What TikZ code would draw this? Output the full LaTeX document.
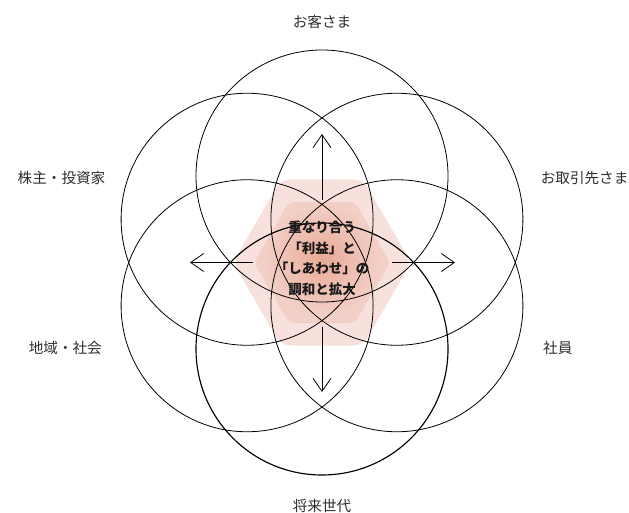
\documentclass[tikz,border=0pt]{standalone}
\usepackage{fontspec}
\newfontfamily\jp{Noto Sans CJK JP}
\usetikzlibrary{arrows.meta,fadings}
\definecolor{hexout}{RGB}{248,225,220}
\definecolor{hexin}{RGB}{243,208,199}
\definecolor{glowc}{RGB}{233,170,150}
\definecolor{lbl}{RGB}{45,45,45}
\tikzfading[name=glowfade, inner color=transparent!0, outer color=transparent!100]
\begin{document}
\begin{tikzpicture}[x=1pt,y=-1pt,
  ring/.style={draw=black, line width=0.8pt},
  ringbold/.style={draw=black, line width=1.15pt},
  flow/.style={draw=black, line width=0.8pt, -{Straight Barb[length=13pt,width=18pt,line width=0.8pt]}},
  stake/.style={font=\jp\fontsize{14.6pt}{18pt}\selectfont, text=lbl, inner sep=0pt},
  core/.style={font=\jp\bfseries\fontsize{13.5pt}{20.5pt}\selectfont, align=center, inner sep=0pt}
]
\useasboundingbox (0,0) rectangle (629,513);
% hexagons
\fill[hexout, rounded corners=9pt] (281,179.5) -- (363,179.5) -- (411,262.5) -- (363,345.5) -- (281,345.5) -- (233,262.5) -- cycle;
\fill[hexin, rounded corners=6pt] (289,202) -- (355,202) -- (390,262.5) -- (355,323) -- (289,323) -- (254,262.5) -- cycle;
\fill[glowc, path fading=glowfade] (322,259) ellipse [x radius=58pt, y radius=56pt];
% circle centres
\coordinate (ctop) at (322,176);
\coordinate (cur) at (396.9,219.25);
\coordinate (clr) at (396.9,305.75);
\coordinate (cbot) at (322,349);
\coordinate (cll) at (247.1,305.75);
\coordinate (cul) at (247.1,219.25);
\draw[ring] (ctop) circle[radius=126pt];
\draw[ring] (cur) circle[radius=126pt];
\draw[ring] (clr) circle[radius=126pt];
\draw[ring] (cll) circle[radius=126pt];
\draw[ring] (cul) circle[radius=126pt];
\draw[ringbold] (cbot) circle[radius=126pt];
% arrows
\coordinate (us) at (322,200); \coordinate (ue) at (322,134);
\coordinate (ds) at (322,327); \coordinate (de) at (322,392);
\coordinate (ls) at (253,262.5); \coordinate (le) at (190,262.5);
\coordinate (rs) at (392,262.5); \coordinate (re) at (455,262.5);
\draw[flow] (us) -- (ue);
\draw[flow] (ds) -- (de);
\draw[flow] (ls) -- (le);
\draw[flow] (rs) -- (re);
% centre text
\node[core, text=black!90] (centre) at (322,258.5) {重なり合う\\「利益」と\\「しあわせ」の\\調和と拡大};
% stakeholders
\node[stake] (cust) at (322,21.5) {お客さま};
\node[stake, anchor=east] (share) at (105.5,177.5) {株主・投資家};
\node[stake, anchor=east] (partner) at (628.6,177.5) {お取引先さま};
\node[stake, anchor=east] (region) at (102,347.5) {地域・社会};
\node[stake, anchor=west] (staff) at (543,347.5) {社員};
\node[stake] (future) at (322,505.5) {将来世代};
\end{tikzpicture}
\end{document}
